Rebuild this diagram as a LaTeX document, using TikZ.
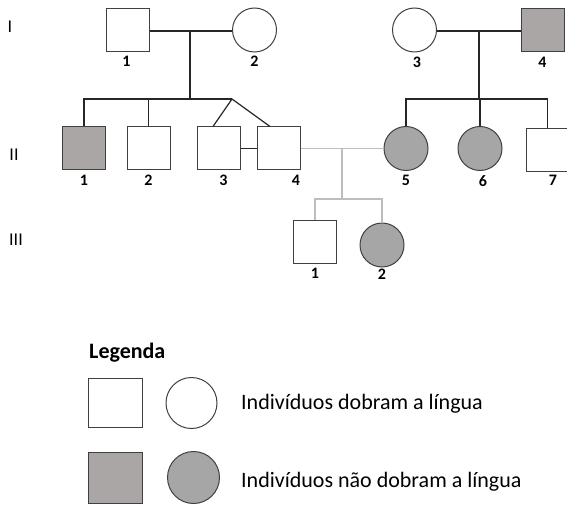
\documentclass[tikz,border=0pt]{standalone}
\usepackage{fontspec}
\setmainfont{Carlito}
\usetikzlibrary{positioning}

\definecolor{sqgray}{HTML}{AAA6A5}
\definecolor{cigray}{HTML}{A6A6A6}
\definecolor{edgegray}{HTML}{404040}
\definecolor{linkgray}{HTML}{BDBDBD}

\begin{document}
\begin{tikzpicture}[x=1pt, y=-1pt,
    male/.style = {draw=edgegray, line width=1pt, fill=white,
      minimum size=43pt, inner sep=0pt},
    female/.style = {circle, draw=edgegray, line width=1pt, fill=white,
      minimum size=44pt, inner sep=0pt},
    affm/.style = {male, fill=sqgray},
    afff/.style = {female, fill=cigray},
    num/.style = {font=\bfseries\fontsize{16}{16}\selectfont, inner sep=0pt},
    gen/.style = {font=\fontsize{18}{18}\selectfont, inner sep=0pt},
    link/.style = {line width=1.2pt, black!85},
    faint/.style = {line width=1.2pt, linkgray},
    legtext/.style = {font=\fontsize{22}{22}\selectfont, inner sep=0pt, anchor=west}]
    \useasboundingbox (0,0) rectangle (567,505);

    % generation labels
    \node[gen] (gen-I) at (10,27) {I};
    \node[gen] (gen-II) at (14,155) {II};
    \node[gen] (gen-III) at (16,240) {III};

    % generation I
    \node[male] (I-1) at (127.5,30) {};
    \node[female] (I-2) at (254.5,30) {};
    \node[female] (I-3) at (414.5,30) {};
    \node[affm] (I-4) at (542.5,30) {};
    \node[num, below = 4pt of I-1, xshift=-1pt] (I-1-t) {1};
    \node[num, below = 3.5pt of I-2] (I-2-t) {2};
    \node[num, below = 4.5pt of I-3, xshift=2.5pt] (I-3-t) {3};
    \node[num, below = 4.5pt of I-4] (I-4-t) {4};

    % generation II
    \node[affm] (II-1) at (84,148.5) {};
    \node[male] (II-2) at (148.5,148.5) {};
    \node[male] (II-3) at (218.5,148.5) {};
    \node[male] (II-4) at (279,148.5) {};
    \node[afff] (II-5) at (406,148.5) {};
    \node[afff] (II-6) at (480,148.5) {};
    \node[male] (II-7) at (547.5,150) {};
    \node[num, below = 4pt of II-1] (II-1-t) {1};
    \node[num, below = 4pt of II-2] (II-2-t) {2};
    \node[num, below = 4pt of II-3, xshift=5pt] (II-3-t) {3};
    \node[num, below = 4pt of II-4, xshift=17pt] (II-4-t) {4};
    \node[num, below = 4pt of II-5] (II-5-t) {5};
    \node[num, below = 4pt of II-6, xshift=3pt] (II-6-t) {6};
    \node[num, below = 2.5pt of II-7, xshift=5.5pt] (II-7-t) {7};

    % generation III
    \node[male] (III-1) at (315,242) {};
    \node[afff] (III-2) at (382,245) {};
    \node[num, below = 4pt of III-1] (III-1-t) {1};
    \node[num, below = 1pt of III-2] (III-2-t) {2};

    % family I-1 x I-2
    \coordinate (fam1-mid) at (190,31);
    \coordinate (fam1-sib) at (190,99);
    \coordinate (twin-apex) at (232,99);
    \draw[link] (I-1.east |- fam1-mid) -- (I-2.west |- fam1-mid);
    \draw[link] (fam1-mid) -- (fam1-sib);
    \draw[link] (II-1.north) |- (twin-apex);
    \draw[link] (II-2.north) -- (II-2.north |- fam1-sib);
    \draw[link] ([xshift=-5.5pt]II-3.north) -- (twin-apex)
      -- ([xshift=-9pt]II-4.north);
    \draw[link] (II-3.east) -- (II-4.west);

    % family I-3 x I-4
    \coordinate (fam2-mid) at (479,31);
    \coordinate (fam2-sib) at (479,99);
    \draw[link] (I-3.east |- fam2-mid) -- (I-4.west |- fam2-mid);
    \draw[link] (fam2-mid) -- (fam2-sib);
    \draw[link] (II-5.north) |- (fam2-sib) -| (II-7.north);
    \draw[link] (II-6.north) -- (II-6.north |- fam2-sib);

    % family II-4 x II-5
    \coordinate (fam3-mid) at (342,148.5);
    \coordinate (fam3-sib) at (342,199);
    \draw[faint] (II-4.east) -- (II-5.west);
    \draw[faint] (fam3-mid) -- (fam3-sib);
    \draw[faint] (III-1.north) |- (fam3-sib) -| (III-2.north);

    % legend
    \node[font=\bfseries\fontsize{22}{22}\selectfont, inner sep=0pt, anchor=west]
      (leg-title) at (89,353) {Legenda};
    \node[male, minimum width=54pt, minimum height=49pt] (leg-m1) at (115,402.5) {};
    \node[female, minimum size=51pt] (leg-f1) at (191.5,403) {};
    \node[affm, minimum width=54pt, minimum height=51pt] (leg-m2) at (115,477.5) {};
    \node[afff, minimum size=52pt] (leg-f2) at (193.5,477.5) {};
    \node[legtext] (leg-t1) at (241,404) {Indivíduos dobram a língua};
    \node[legtext] (leg-t2) at (241,482) {Indivíduos não dobram a língua};
\end{tikzpicture}
\end{document}
